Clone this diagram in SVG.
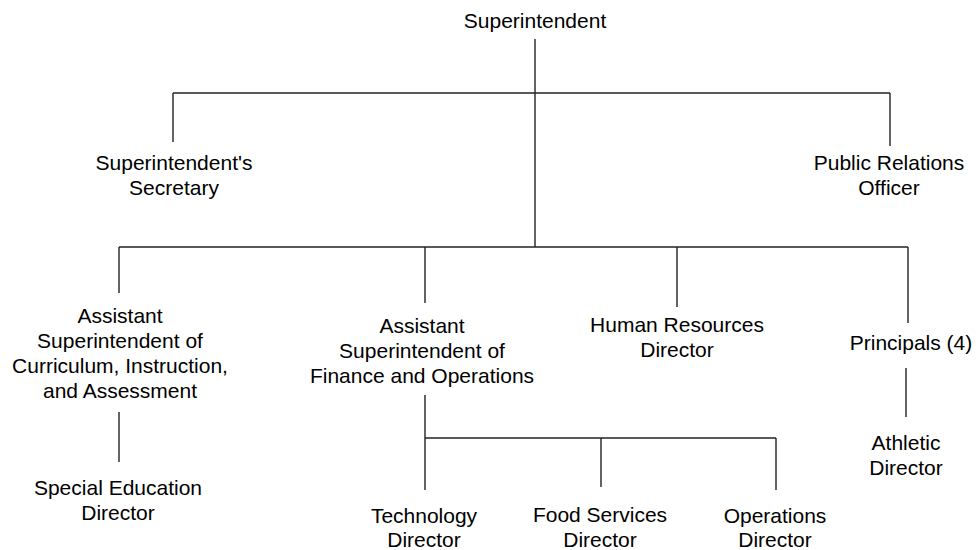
<svg xmlns="http://www.w3.org/2000/svg" width="976" height="550" viewBox="0 0 976 550">
<style>
text{font-family:"Liberation Sans",Arial,sans-serif;font-size:21px;fill:#000;text-anchor:middle}
.c line{stroke:#222;stroke-width:1.4;fill:none}
</style>
<rect width="976" height="550" fill="#fff"/>
<g class="c" id="connectors">
<line x1="535" y1="39" x2="535" y2="247"/>
<line x1="173" y1="93" x2="890" y2="93"/>
<line x1="173" y1="93" x2="173" y2="142"/>
<line x1="890" y1="93" x2="890" y2="146"/>
<line x1="119" y1="247" x2="908" y2="247"/>
<line x1="119" y1="247" x2="119" y2="293"/>
<line x1="425" y1="247" x2="425" y2="303"/>
<line x1="677" y1="247" x2="677" y2="307"/>
<line x1="908" y1="247" x2="908" y2="323"/>
<line x1="119" y1="412" x2="119" y2="462"/>
<line x1="425" y1="395" x2="425" y2="490"/>
<line x1="425" y1="438" x2="776" y2="438"/>
<line x1="601" y1="438" x2="601" y2="487"/>
<line x1="776" y1="438" x2="776" y2="490"/>
<line x1="906" y1="368" x2="906" y2="417"/>
</g>
<g id="superintendent"><text x="535" y="28">Superintendent</text></g>
<g id="secretary"><text x="174" y="170">Superintendent's</text><text x="174" y="195">Secretary</text></g>
<g id="pr"><text x="889" y="170">Public Relations</text><text x="889" y="195">Officer</text></g>
<g id="asst-curriculum"><text x="120" y="323">Assistant</text><text x="120" y="348">Superintendent of</text><text x="120" y="373">Curriculum, Instruction,</text><text x="120" y="398">and Assessment</text></g>
<g id="special-ed"><text x="118" y="495">Special Education</text><text x="118" y="520">Director</text></g>
<g id="asst-finance"><text x="422" y="333">Assistant</text><text x="422" y="358">Superintendent of</text><text x="422" y="383">Finance and Operations</text></g>
<g id="hr"><text x="677" y="332">Human Resources</text><text x="677" y="357">Director</text></g>
<g id="principals"><text x="911" y="350">Principals (4)</text></g>
<g id="athletic"><text x="906" y="450">Athletic</text><text x="906" y="475">Director</text></g>
<g id="technology"><text x="424" y="523">Technology</text><text x="424" y="547">Director</text></g>
<g id="food"><text x="600" y="522">Food Services</text><text x="600" y="547">Director</text></g>
<g id="operations"><text x="775" y="523">Operations</text><text x="775" y="547">Director</text></g>
</svg>
